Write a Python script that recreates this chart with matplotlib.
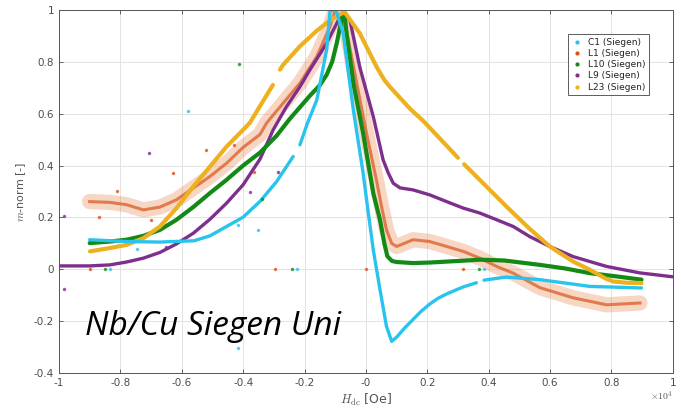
import numpy as np
import matplotlib
matplotlib.use("Agg")
import matplotlib.pyplot as plt
import matplotlib.ticker as mticker

plt.rcParams["axes.unicode_minus"] = False
plt.rcParams["mathtext.fontset"] = "cm"

# --- data (H in Oe, m normalised) ---
nan = np.nan
h_c1 = [-9000, -7800, -6700, -5600, -5080, -4540, -4000, -3450, -2910, -2370, nan,
        -2150, -1900, -1600, -1280, -1170, -1050, -950, -740, -410, -90, 20, 240, 460,
        670, 840, 1000, 1250, 1540, 1800, 2080, 2350, 2630, 3170, 3600, nan, 3850, 4260,
        4580, 5670, 7300, 8980]
m_c1 = [0.114, 0.107, 0.105, 0.11, 0.129, 0.165, 0.201, 0.262, 0.338, 0.435, nan,
        0.48, 0.565, 0.653, 0.846, 0.995, 1.0, 0.99, 0.91, 0.615, 0.371, 0.27, 0.075, -0.079,
        -0.22, -0.278, -0.262, -0.228, -0.193, -0.162, -0.134, -0.112, -0.095, -0.068, -0.052, nan,
        -0.042, -0.035, -0.03, -0.04, -0.066, -0.072]

h_l1 = [-9000, -8340, -7800, -7250, -6710, -6170, -5625, -5080, -4540, -4000, -3450,
        -3230, -2700, -2150, -1600, -1170, -1000, -630, -300, 20, 350, 510, 670, 840,
        1000, 1540, 2080, 2630, 3170, 3710, 4260, 4800, 5670, 6750, 7840, 8930]
m_l1 = [0.261, 0.258, 0.249, 0.229, 0.24, 0.268, 0.313, 0.358, 0.409, 0.47, 0.52,
        0.565, 0.64, 0.718, 0.82, 0.936, 1.0, 0.92, 0.718, 0.525, 0.34, 0.242, 0.152, 0.10,
        0.088, 0.114, 0.107, 0.088, 0.069, 0.043, 0.011, -0.015, -0.071, -0.11, -0.137, -0.13]

h_l10 = [-9000, -8340, -7800, -7250, -6710, -6170, -5625, -5080, -4540, -4000, -3450,
         -2910, -2480, -2150, -1820, -1500, -1280, -1100, -950, -850, -780, -700, -630,
         -410, -90, 240, 460, 600, 700, 850, 1000, 1540, 2080, 3000, 3710, 4500, 5670,
         6500, 7300, 8200, 8980]
m_l10 = [0.101, 0.107, 0.114, 0.129, 0.152, 0.191, 0.24, 0.294, 0.345, 0.40, 0.45,
         0.515, 0.58, 0.625, 0.67, 0.71, 0.75, 0.80, 0.872, 0.93, 0.97, 0.99, 0.91,
         0.718, 0.525, 0.294, 0.19, 0.10, 0.05, 0.032, 0.028, 0.024, 0.026, 0.032, 0.037,
         0.034, 0.017, 0.003, -0.015, -0.028, -0.040]

h_l9 = [-9970, -9000, -8340, -7800, -7250, -6710, -6170, -5625, -5080, -4540, -4000,
        -3450, -3020, -2600, -2150, -1820, -1500, -1280, -900, -740, -520, -200, 240,
        560, 730, 890, 1110, 1540, 2080, 2630, 3170, 3710, 4260, 4800, 5340, 5990, 6750,
        7840, 8930, 10000]
m_l9 = [0.013, 0.013, 0.017, 0.028, 0.043, 0.065, 0.098, 0.139, 0.193, 0.255, 0.326,
        0.425, 0.538, 0.625, 0.704, 0.77, 0.83, 0.872, 0.96, 0.993, 0.96, 0.78, 0.589,
        0.422, 0.371, 0.332, 0.314, 0.306, 0.287, 0.261, 0.236, 0.217, 0.191, 0.165, 0.126,
        0.088, 0.049, 0.011, -0.014, -0.029]

h_l23 = [-8990, -8340, -7800, -7250, -6710, -6170, -5625, -5080, -4540, -4000, -3780,
         -3030, nan, -2800, -2700, -2150, -1600, -1170, -700, -200, 350, 600, 780, 1430,
         1870, 3000, nan, 3200, 4580, 5300, 5990, 6750, 7300, 7800, 8060, 8500, 8980]
m_l23 = [0.069, 0.082, 0.094, 0.12, 0.165, 0.236, 0.319, 0.396, 0.473, 0.538, 0.565,
         0.711, nan, 0.77, 0.788, 0.86, 0.92, 0.96, 0.993, 0.91, 0.78, 0.73, 0.704, 0.62,
         0.572, 0.43, nan, 0.405, 0.242, 0.16, 0.088, 0.03, -0.002, -0.035, -0.047, -0.052, -0.053]

# stray points
h_c1_out = [-5800, -7470, -4170, -3530, -4160, -8340, -2260, 3850]
m_c1_out = [0.611, 0.078, 0.171, 0.150, -0.303, 0.0, 0.0, 0.0]
h_l1_out = [-3650, -6280, -2960, -9000, 0, 3170, -8100, -5200, -8700, -7000, -4300]
m_l1_out = [0.375, 0.373, 0.0, 0.0, 0.0, 0.0, 0.30, 0.46, 0.2, 0.19, 0.48]
h_l10_out = [-4130, -3400, -8500, -2420, 3700]
m_l10_out = [0.792, 0.27, 0.0, 0.0, 0.0]
h_l9_out = [-7070, -2870, -3780, -9840, -9840, -6510]
m_l9_out = [0.448, 0.375, 0.298, 0.207, -0.075, 0.086]

labels = ["C1 (Siegen)", "L1 (Siegen)", "L10 (Siegen)", "L9 (Siegen)", "L23 (Siegen)"]
C_CYAN = "#29C3EE"
C_ORNG = "#D95319"
C_GRN = "#138A16"
C_PURP = "#7E2F8E"
C_YEL = "#EDB120"

fig = plt.figure(figsize=(6.81, 4.09), dpi=100, facecolor="white")
ax = fig.add_axes([0.0866, 0.088, 0.9014, 0.8876])

k = 1e-4
ax.plot(np.array(h_l1) * k, m_l1, color="#E8834A", lw=11, alpha=0.32, solid_capstyle="round")
ax.plot(np.array(h_l1) * k, m_l1, color=C_ORNG, lw=2.2, alpha=0.7)
ax.plot(np.array(h_l9) * k, m_l9, color=C_PURP, lw=2.4, solid_capstyle="round")
ax.plot(np.array(h_l10) * k, m_l10, color=C_GRN, lw=3.0, solid_capstyle="round")
ax.plot(np.array(h_l23) * k, m_l23, color=C_YEL, lw=3.0, solid_capstyle="round")
ax.plot(np.array(h_c1) * k, m_c1, color=C_CYAN, lw=2.4, solid_capstyle="round")

for hh, mm, cc in [(h_c1_out, m_c1_out, C_CYAN), (h_l1_out, m_l1_out, C_ORNG),
                   (h_l10_out, m_l10_out, C_GRN), (h_l9_out, m_l9_out, C_PURP)]:
    ax.plot(np.array(hh) * k, mm, ls="none", marker=".", ms=3, color=cc, alpha=0.7)

# legend proxies
for lab, cc in zip(labels, [C_CYAN, C_ORNG, C_GRN, C_PURP, C_YEL]):
    ax.plot([], [], ls="none", marker=".", ms=4, color=cc, label=lab)
leg = ax.legend(loc="upper right", bbox_to_anchor=(0.968, 0.946), fontsize=6.5,
                frameon=True, fancybox=False, edgecolor="#333333", handlelength=1.2,
                handletextpad=0.6, borderpad=0.4, labelspacing=0.25, labelcolor="#222222")
leg.get_frame().set_linewidth(0.7)

ax.set_xlim(-1, 1)
ax.set_ylim(-0.4, 1)
ax.set_xticks(np.arange(-1, 1.01, 0.2))
ax.set_yticks(np.arange(-0.4, 1.01, 0.2))
fmt = mticker.FuncFormatter(lambda v, _: f"{round(v, 2):g}")
ax.xaxis.set_major_formatter(fmt)
ax.yaxis.set_major_formatter(fmt)
ax.tick_params(direction="in", top=True, right=True, length=3, width=0.6,
               labelsize=7.5, colors="#4d4d4d", labelcolor="#4d4d4d")
ax.grid(True, color="#e3e3e3", lw=0.7)
ax.set_axisbelow(True)
for sp in ax.spines.values():
    sp.set_color("#555555")
    sp.set_linewidth(0.7)

ax.set_xlabel(r"$H_{\rm dc}$ [Oe]", fontsize=9, color="#555555", labelpad=3)
ax.set_ylabel(r"$m$-norm [-]", fontsize=8, color="#555555", labelpad=4)
fig.text(0.955, 0.022, r"$\times 10^4$", fontsize=7, color="#555555")

ax.text(-0.915, -0.252, "Nb/Cu Siegen Uni", fontsize=24, style="italic",
        family="Open Sans", color="black", va="baseline", ha="left")

fig.savefig("out.png", dpi=100, facecolor="white")
